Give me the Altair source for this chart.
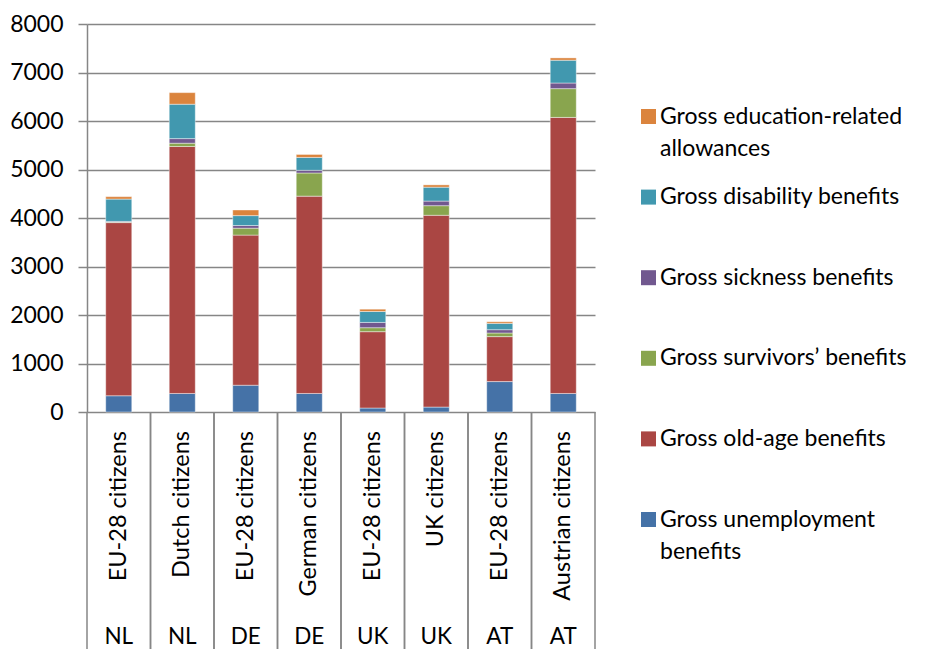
import altair as alt
import pandas as pd

FONT = "Lato"

countries = ["NL", "NL", "DE", "DE", "UK", "UK", "AT", "AT"]
groups = ["EU-28 citizens", "Dutch citizens", "EU-28 citizens", "German citizens",
          "EU-28 citizens", "UK citizens", "EU-28 citizens", "Austrian citizens"]

series = ["Gross unemployment benefits", "Gross old-age benefits",
          "Gross survivors\u2019 benefits", "Gross sickness benefits",
          "Gross disability benefits", "Gross education-related allowances"]
series_colors = ["#4572A7", "#AA4643", "#89A54E", "#71588F", "#4198AF", "#DB843D"]

unemployment = [335, 382, 552, 382, 82, 102, 627, 382]
old_age = [3570, 5092, 3095, 4069, 1574, 3954, 927, 5692]
survivors = [10, 68, 143, 477, 82, 198, 75, 593]
sickness = [15, 95, 55, 55, 109, 95, 68, 116]
disability = [460, 709, 204, 266, 225, 286, 130, 470]
education = [50, 239, 116, 61, 48, 48, 34, 48]

legend_lines = {
    "Gross education-related allowances": ["Gross education-related", "allowances"],
    "Gross unemployment benefits": ["Gross unemployment", "benefits"],
}

values = [unemployment, old_age, survivors, sickness, disability, education]

rows = []
for s_i, (name, vals) in enumerate(zip(series, values)):
    for i, v in enumerate(vals):
        rows.append({"pos": i, "country": countries[i], "group": groups[i],
                     "series": name, "order": s_i, "value": v})
df = pd.DataFrame(rows)
cats = pd.DataFrame({"pos": list(range(len(groups))), "country": countries, "group": groups})

W, H = 508, 388
GRID = "#868686"

expr = "datum.label"
for k, lines in legend_lines.items():
    arr = "[" + ", ".join("'" + l + "'" for l in lines) + "]"
    expr = f"datum.label == '{k}' ? {arr} : ({expr})"

xscale = alt.Scale(paddingInner=0, paddingOuter=0)

bars = alt.Chart(df).mark_bar(width={"band": 0.41}, stroke="white", strokeWidth=0.7,
                              strokeOpacity=0.6).encode(
    x=alt.X("pos:O", scale=xscale, axis=None),
    y=alt.Y("value:Q", stack="zero",
            scale=alt.Scale(domain=[0, 8000], nice=False),
            axis=alt.Axis(values=list(range(0, 8001, 1000)), format="d", title=None,
                          grid=True, gridColor=GRID, gridWidth=1.5, domainColor=GRID,
                          domainWidth=1.5, tickColor=GRID, tickWidth=1.5, tickSize=9,
                          labelPadding=15, labelFont=FONT, labelFontSize=23,
                          labelColor="black")),
    color=alt.Color("series:N",
                    scale=alt.Scale(domain=series[::-1], range=series_colors[::-1]),
                    legend=alt.Legend(title=None, orient="none", legendX=550, legendY=81,
                                      symbolType="square", symbolSize=225,
                                      symbolStrokeWidth=0, labelFont=FONT,
                                      labelFontSize=23, labelColor="black",
                                      labelOffset=0, labelLimit=400, rowPadding=24.6,
                                      gridAlign="all", labelExpr=expr)),
    order=alt.Order("order:Q", sort="ascending"),
)

sep_left = alt.Chart(cats).mark_rule(color=GRID, strokeWidth=1.5).encode(
    x=alt.X("pos:O", bandPosition=0, axis=None),
    y=alt.value(H), y2=alt.value(H + 250),
)
sep_right = alt.Chart(cats).mark_rule(color=GRID, strokeWidth=1.5).encode(
    x=alt.X("pos:O", bandPosition=1, axis=None),
    y=alt.value(H), y2=alt.value(H + 250),
)

group_text = alt.Chart(cats).mark_text(angle=270, align="right", baseline="middle",
                                       font=FONT, fontSize=23.5, color="black").encode(
    x=alt.X("pos:O", axis=None),
    y=alt.value(H + 19),
    text="group:N",
)
country_text = alt.Chart(cats).mark_text(align="center", baseline="middle",
                                         font=FONT, fontSize=22.5, color="black").encode(
    x=alt.X("pos:O", axis=None),
    y=alt.value(H + 225),
    text="country:N",
)

chart = alt.layer(sep_left, sep_right, bars, group_text, country_text).properties(
    width=W, height=H,
    autosize=alt.AutoSizeParams(type="none"),
    padding={"left": 79, "top": 16, "right": 322, "bottom": 237},
).configure(
    background="white",
    view=alt.ViewConfig(stroke=None),
    style={"guide-label": {"lineHeight": 32}},
)

chart.save("out.html", embed_options={"renderer": "svg", "actions": False})
